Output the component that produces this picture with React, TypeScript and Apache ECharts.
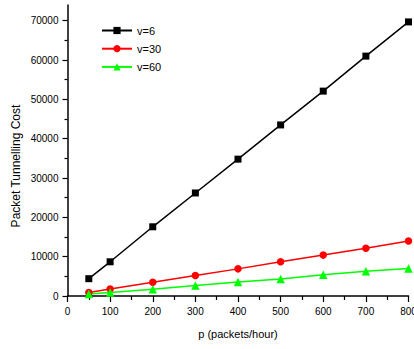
import React, { useEffect, useRef } from "react";
import * as echarts from "echarts";

const pValues = [50, 100, 200, 300, 400, 500, 600, 700, 800];
const costV6 = [4400, 8700, 17600, 26200, 34800, 43500, 52100, 61000, 69700];
const costV30 = [900, 1800, 3500, 5200, 6900, 8700, 10400, 12150, 14000];
const costV60 = [480, 870, 1700, 2700, 3550, 4350, 5400, 6300, 7000];
const yMajorTicks = [0, 10000, 20000, 30000, 40000, 50000, 60000, 70000];
const yMinorTicks = [5000, 15000, 25000, 35000, 45000, 55000, 65000];

const FONT = "'Liberation Sans', Arial, sans-serif";

function pairs(ys: number[]) {
  return pValues.map((p, i) => [p, ys[i]]);
}

export default function App() {
  const ref = useRef<HTMLDivElement>(null);
  useEffect(() => {
    if (!ref.current) return;
    const chart = echarts.init(ref.current, null, { renderer: "svg" });
    const mkSeries = (name: string, ys: number[], color: string, symbol: string, size: number) => ({
      name,
      type: "line",
      data: pairs(ys),
      symbol,
      symbolSize: size,
      showAllSymbol: true,
      itemStyle: { color },
      lineStyle: { color, width: 1.5 },
      emphasis: { disabled: true },
      z: 3,
    });
    chart.setOption({
      animation: false,
      backgroundColor: "#ffffff",
      grid: { left: 67.5, right: 5.5, top: 5, bottom: 53, containLabel: false, outerBoundsMode: "none" },
      legend: {
        left: 96,
        top: 20,
        orient: "vertical",
        itemWidth: 30,
        itemHeight: 9,
        itemGap: 7.2,
        textStyle: { fontFamily: FONT, fontSize: 11, color: "#000" },
        data: ["v=6", "v=30", "v=60"],
      },
      xAxis: {
        type: "value",
        min: 0,
        max: 800,
        interval: 100,
        name: "p (packets/hour)",
        nameLocation: "middle",
        nameGap: 32,
        nameTextStyle: { fontFamily: FONT, fontSize: 11, color: "#000" },
        axisLine: { show: true, onZero: false, lineStyle: { color: "#000", width: 1.5 } },
        axisTick: { show: true, length: 6, lineStyle: { color: "#000", width: 1.2 } },
        minorTick: { show: true, splitNumber: 2, length: 4, lineStyle: { color: "#000", width: 1.2 } },
        axisLabel: { fontFamily: FONT, fontSize: 10, color: "#000", margin: 10, hideOverlap: false },
        splitLine: { show: false },
      },
      yAxis: [
        {
          type: "value",
          min: 0,
          max: 74000,
          interval: 10000,
          position: "left",
          axisLine: { show: true, lineStyle: { color: "#000", width: 1.5 } },
          axisTick: { show: true, length: 5, customValues: yMajorTicks, lineStyle: { color: "#000", width: 1.2 } },
          axisLabel: {
            fontFamily: FONT,
            fontSize: 10,
            color: "#000",
            margin: 9,
            customValues: yMajorTicks,
            formatter: (v: number) => String(v),
          },
          splitLine: { show: false },
        },
        {
          type: "value",
          min: 0,
          max: 74000,
          interval: 10000,
          position: "left",
          offset: 0,
          axisLine: { show: false },
          axisTick: { show: true, length: 3, customValues: yMinorTicks, lineStyle: { color: "#000", width: 1.2 } },
          axisLabel: { show: false },
          splitLine: { show: false },
        },
      ],
      graphic: [
        {
          type: "text",
          x: 16,
          y: 166,
          rotation: Math.PI / 2,
          style: {
            text: "Packet Tunnelling Cost",
            fontFamily: FONT,
            fontSize: 12,
            fill: "#000",
            align: "center",
            verticalAlign: "middle",
          },
        },
      ],
      series: [
        mkSeries("v=6", costV6, "#000000", "rect", 7),
        mkSeries("v=30", costV30, "#ff0000", "circle", 7.5),
        mkSeries("v=60", costV60, "#00ff00", "triangle", 8.5),
      ],
    });
    return () => chart.dispose();
  }, []);
  return <div ref={ref} style={{ width: 414, height: 349, position: "absolute", left: 0, top: 0 }} />;
}
